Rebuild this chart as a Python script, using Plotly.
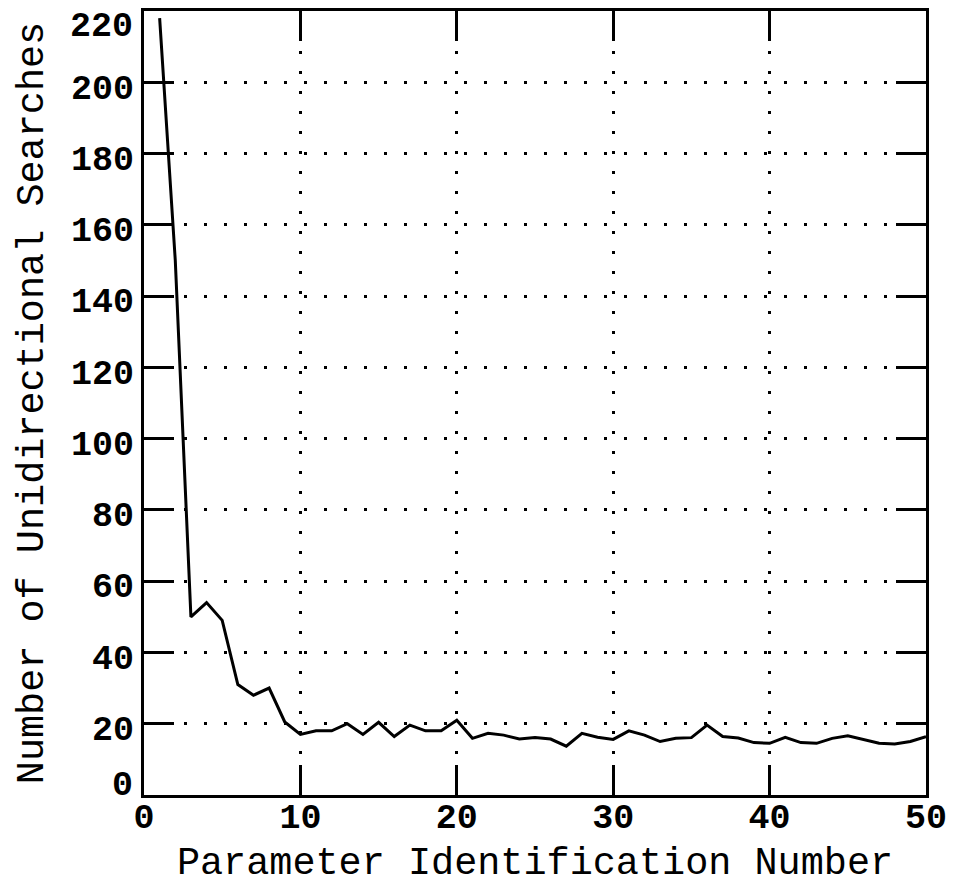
import plotly.graph_objects as go

# Number of unidirectional searches needed for each parameter identification run
param_id = list(range(1, 51))
searches = [
    218, 150, 50, 54, 49, 31, 28, 30, 20.5, 17,
    18, 18, 20, 17, 20.4, 16.4, 19.6, 18, 18, 21,
    15.9, 17.3, 16.8, 15.7, 16.1, 15.7, 13.7, 17.3, 16.2, 15.6,
    18, 16.8, 15, 15.9, 16.1, 19.6, 16.4, 16, 14.7, 14.5,
    16.2, 14.7, 14.5, 15.9, 16.6, 15.6, 14.5, 14.3, 15, 16.4,
]

x_ticks = [0, 10, 20, 30, 40, 50]
y_ticks = list(range(0, 221, 20))
y_range = [0, 220]

FONT = "Liberation Mono"
TICK_FONT = dict(family=FONT, size=35, color="black", weight="bold")

fig = go.Figure()
fig.add_trace(go.Scatter(
    x=param_id, y=searches, mode="lines",
    line=dict(color="black", width=3),
    showlegend=False,
))
# empty traces so the end-label axes (top and bottom values) get drawn
for ax in ("y2", "y3"):
    fig.add_trace(go.Scatter(x=[None], y=[None], yaxis=ax,
                             showlegend=False, hoverinfo="skip"))

axis_common = dict(
    showline=True, linecolor="black", linewidth=3, mirror="ticks",
    ticks="inside", ticklen=30, tickwidth=3, tickcolor="black",
    showgrid=True, gridcolor="black", gridwidth=2.5, griddash="3px,17px",
    zeroline=False, automargin=False, ticklabeloverflow="allow",
    tickfont=TICK_FONT,
)

fig.update_xaxes(
    range=[0, 50], tickvals=x_ticks, ticktext=[str(v) for v in x_ticks],
    title=dict(text="Parameter Identification Number",
               font=dict(family=FONT, size=38.5, color="black"), standoff=10),
    ticklabelstandoff=-12,
    **axis_common,
)

inner = y_ticks[1:-1]
fig.update_yaxes(
    range=y_range, tickvals=inner, ticktext=[str(v) for v in inner],
    title=dict(text="Number of Unidirectional Searches",
               font=dict(family=FONT, size=38.5, color="black"), standoff=16),
    ticklabelstandoff=0, ticklabelshift=4,
    **axis_common,
)

# labels at the two ends of the y axis sit inside the frame's height
end_axis = dict(
    overlaying="y", anchor="x", side="left", range=y_range,
    showline=False, showgrid=False, zeroline=False, ticks="",
    automargin=False, ticklabeloverflow="allow", ticklabelstandoff=10,
    tickfont=TICK_FONT,
)
fig.update_layout(
    yaxis2=dict(tickvals=[y_ticks[-1]], ticktext=[str(y_ticks[-1])],
                ticklabelshift=13, **end_axis),
    yaxis3=dict(tickvals=[y_ticks[0]], ticktext=[str(y_ticks[0])],
                ticklabelshift=-12, **end_axis),
)

fig.update_layout(
    width=953, height=887,
    margin=dict(l=143.5, r=26.5, t=11, b=92),
    paper_bgcolor="white", plot_bgcolor="white",
)

fig.write_html("out.html")
